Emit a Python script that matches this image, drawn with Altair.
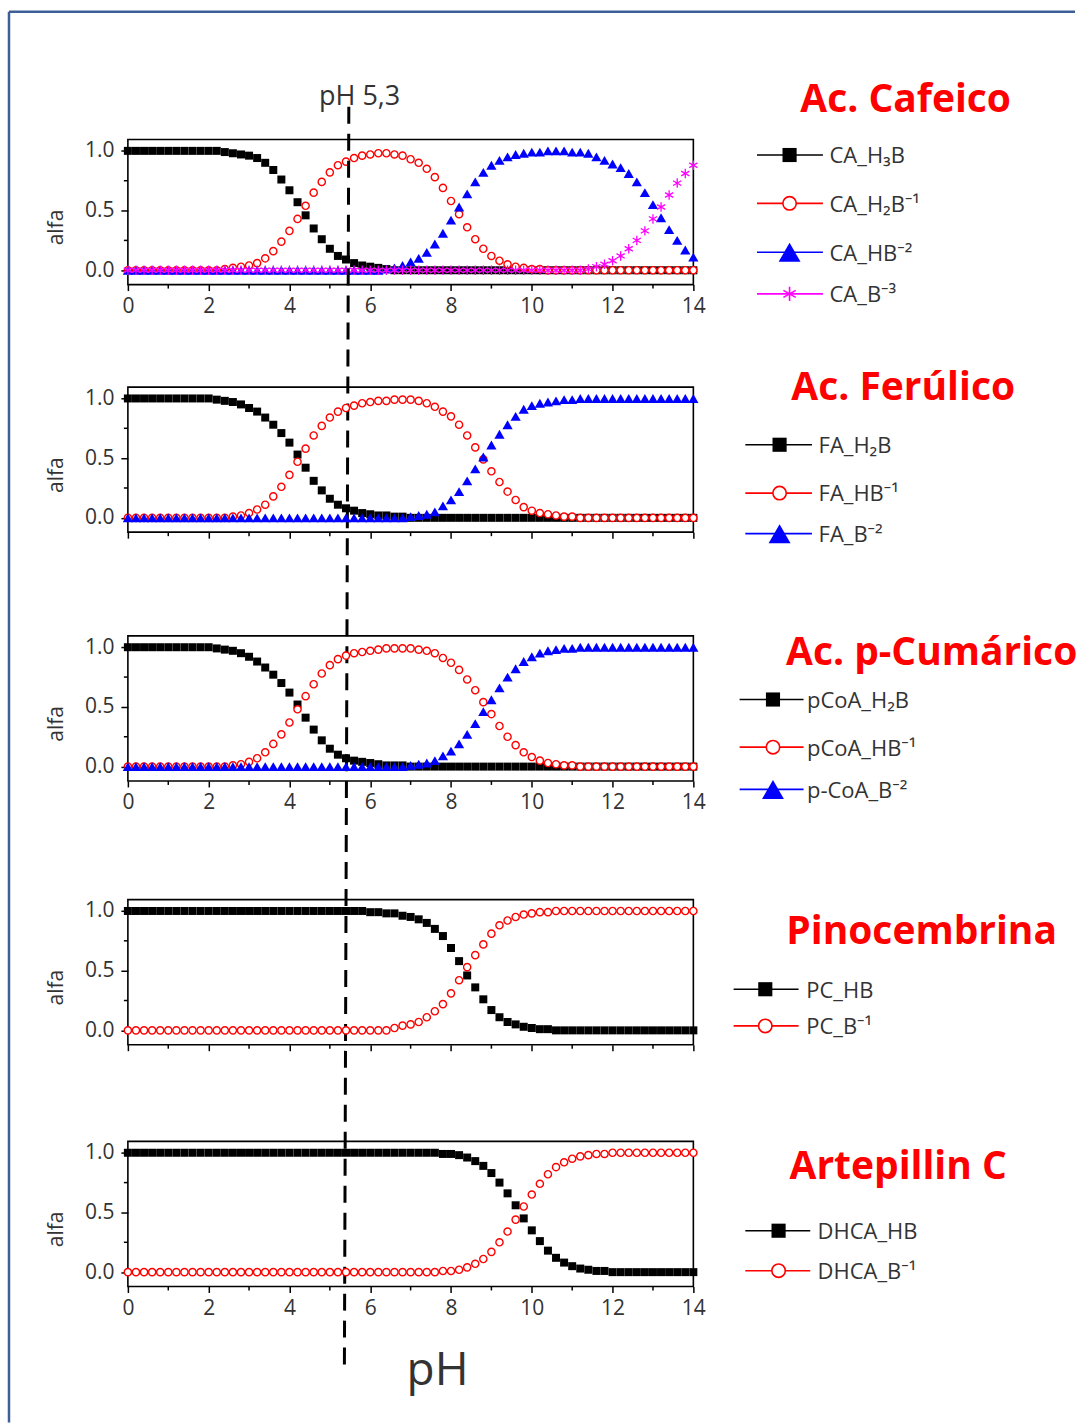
import altair as alt
import pandas as pd

# ---------------- data ----------------
PH = [0.0, 0.2, 0.4, 0.6, 0.8, 1.0, 1.2, 1.4, 1.6, 1.8,
      2.0, 2.2, 2.4, 2.6, 2.8, 3.0, 3.2, 3.4, 3.6, 3.8,
      4.0, 4.2, 4.4, 4.6, 4.8, 5.0, 5.2, 5.4, 5.6, 5.8,
      6.0, 6.2, 6.4, 6.6, 6.8, 7.0, 7.2, 7.4, 7.6, 7.8,
      8.0, 8.2, 8.4, 8.6, 8.8, 9.0, 9.2, 9.4, 9.6, 9.8,
      10.0, 10.2, 10.4, 10.6, 10.8, 11.0, 11.2, 11.4, 11.6, 11.8,
      12.0, 12.2, 12.4, 12.6, 12.8, 13.0, 13.2, 13.4, 13.6, 13.8,
      14.0]

# Ac. Cafeico
CA_H3B = [1, 1, 1, 1, 1, 1, 1, 1, 1, 1,
          1.00, 1.00, 0.99, 0.98, 0.97, 0.96, 0.94, 0.90, 0.84, 0.76,
          0.67, 0.57, 0.46, 0.35, 0.26, 0.18, 0.12, 0.09, 0.06, 0.04,
          0.03, 0.02, 0.01, 0, 0, 0, 0, 0, 0, 0,
          0, 0, 0, 0, 0, 0, 0, 0, 0, 0,
          0, 0, 0, 0, 0, 0, 0, 0, 0, 0,
          0, 0, 0, 0, 0, 0, 0, 0, 0, 0,
          0]
CA_H2B = [0, 0, 0, 0, 0, 0, 0, 0, 0, 0,
          0.00, 0.00, 0.01, 0.02, 0.03, 0.04, 0.06, 0.10, 0.16, 0.24,
          0.33, 0.43, 0.54, 0.65, 0.74, 0.82, 0.88, 0.91, 0.94, 0.96,
          0.97, 0.98, 0.98, 0.97, 0.96, 0.93, 0.90, 0.85, 0.78, 0.69,
          0.58, 0.47, 0.36, 0.26, 0.18, 0.12, 0.08, 0.05, 0.03, 0.02,
          0.01, 0.01, 0, 0, 0, 0, 0, 0, 0, 0,
          0, 0, 0, 0, 0, 0, 0, 0, 0, 0,
          0]
CA_HB = [0, 0, 0, 0, 0, 0, 0, 0, 0, 0,
         0, 0, 0, 0, 0, 0, 0, 0, 0, 0,
         0, 0, 0, 0, 0, 0, 0, 0, 0, 0,
         0, 0, 0.01, 0.02, 0.04, 0.07, 0.10, 0.15, 0.22, 0.31,
         0.42, 0.53, 0.64, 0.74, 0.82, 0.88, 0.92, 0.95, 0.97, 0.98,
         0.99, 0.99, 1.00, 1.00, 1.00, 0.99, 0.99, 0.98, 0.95, 0.92,
         0.89, 0.86, 0.81, 0.74, 0.65, 0.55, 0.44, 0.34, 0.25, 0.17,
         0.11]
CA_B = [0, 0, 0, 0, 0, 0, 0, 0, 0, 0,
        0, 0, 0, 0, 0, 0, 0, 0, 0, 0,
        0, 0, 0, 0, 0, 0, 0, 0, 0, 0,
        0, 0, 0, 0, 0, 0, 0, 0, 0, 0,
        0, 0, 0, 0, 0, 0, 0, 0, 0, 0,
        0, 0, 0, 0, 0, 0, 0, 0.01, 0.03, 0.05,
        0.08, 0.12, 0.18, 0.25, 0.33, 0.43, 0.53, 0.63, 0.73, 0.81,
        0.88]

# Ac. Ferulico
FA_H2B = [1, 1, 1, 1, 1, 1, 1, 1, 1, 1,
          1.00, 0.99, 0.98, 0.97, 0.95, 0.92, 0.89, 0.84, 0.78, 0.71,
          0.63, 0.53, 0.42, 0.31, 0.23, 0.16, 0.11, 0.08, 0.06, 0.04,
          0.03, 0.02, 0.02, 0.01, 0.01, 0, 0, 0, 0, 0,
          0, 0, 0, 0, 0, 0, 0, 0, 0, 0,
          0, 0, 0, 0, 0, 0, 0, 0, 0, 0,
          0, 0, 0, 0, 0, 0, 0, 0, 0, 0,
          0]
FA_HB = [0, 0, 0, 0, 0, 0, 0, 0, 0, 0,
         0, 0, 0, 0.01, 0.02, 0.04, 0.07, 0.11, 0.18, 0.26,
         0.36, 0.47, 0.58, 0.69, 0.77, 0.84, 0.89, 0.92, 0.94, 0.96,
         0.97, 0.98, 0.98, 0.99, 0.99, 0.99, 0.98, 0.96, 0.93, 0.89,
         0.85, 0.78, 0.69, 0.59, 0.49, 0.39, 0.30, 0.22, 0.15, 0.09,
         0.06, 0.04, 0.03, 0.02, 0.01, 0.01, 0, 0, 0, 0,
         0, 0, 0, 0, 0, 0, 0, 0, 0, 0,
         0]
FA_B = [0, 0, 0, 0, 0, 0, 0, 0, 0, 0,
        0, 0, 0, 0, 0, 0, 0, 0, 0, 0,
        0, 0, 0, 0, 0, 0, 0, 0, 0, 0,
        0, 0, 0, 0, 0, 0.01, 0.02, 0.03, 0.05, 0.10,
        0.15, 0.22, 0.31, 0.41, 0.51, 0.61, 0.70, 0.78, 0.85, 0.91,
        0.94, 0.96, 0.97, 0.98, 0.99, 0.99, 1, 1, 1, 1,
        1, 1, 1, 1, 1, 1, 1, 1, 1, 1,
        1]

# Ac. p-Cumarico
PCOA_H2B = [1, 1, 1, 1, 1, 1, 1, 1, 1, 1,
            1.00, 0.99, 0.98, 0.97, 0.95, 0.92, 0.88, 0.83, 0.77, 0.70,
            0.62, 0.52, 0.41, 0.31, 0.22, 0.15, 0.10, 0.07, 0.05, 0.04,
            0.03, 0.02, 0.01, 0.01, 0.01, 0, 0, 0, 0, 0,
            0, 0, 0, 0, 0, 0, 0, 0, 0, 0,
            0, 0, 0, 0, 0, 0, 0, 0, 0, 0,
            0, 0, 0, 0, 0, 0, 0, 0, 0, 0,
            0]
PCOA_HB = [0, 0, 0, 0, 0, 0, 0, 0, 0, 0,
           0, 0, 0, 0.01, 0.02, 0.04, 0.07, 0.12, 0.19, 0.27,
           0.37, 0.48, 0.59, 0.69, 0.78, 0.85, 0.90, 0.93, 0.95, 0.96,
           0.97, 0.98, 0.99, 0.99, 0.99, 0.99, 0.98, 0.97, 0.95, 0.91,
           0.87, 0.81, 0.73, 0.64, 0.54, 0.44, 0.34, 0.25, 0.18, 0.12,
           0.08, 0.05, 0.03, 0.02, 0.01, 0.01, 0, 0, 0, 0,
           0, 0, 0, 0, 0, 0, 0, 0, 0, 0,
           0]
PCOA_B = [0, 0, 0, 0, 0, 0, 0, 0, 0, 0,
          0, 0, 0, 0, 0, 0, 0, 0, 0, 0,
          0, 0, 0, 0, 0, 0, 0, 0, 0, 0,
          0, 0, 0, 0, 0, 0.01, 0.02, 0.03, 0.05, 0.09,
          0.13, 0.19, 0.27, 0.36, 0.46, 0.56, 0.66, 0.75, 0.82, 0.88,
          0.92, 0.95, 0.97, 0.98, 0.99, 0.99, 1, 1, 1, 1,
          1, 1, 1, 1, 1, 1, 1, 1, 1, 1,
          1]

# Pinocembrina
PC_HB = [1, 1, 1, 1, 1, 1, 1, 1, 1, 1,
         1, 1, 1, 1, 1, 1, 1, 1, 1, 1,
         1, 1, 1, 1, 1, 1, 1, 1, 1, 1,
         0.99, 0.99, 0.98, 0.98, 0.96, 0.95, 0.93, 0.90, 0.85, 0.79,
         0.69, 0.58, 0.46, 0.36, 0.26, 0.17, 0.11, 0.07, 0.05, 0.03,
         0.02, 0.01, 0.01, 0, 0, 0, 0, 0, 0, 0,
         0, 0, 0, 0, 0, 0, 0, 0, 0, 0,
         0]
PC_B = [0, 0, 0, 0, 0, 0, 0, 0, 0, 0,
        0, 0, 0, 0, 0, 0, 0, 0, 0, 0,
        0, 0, 0, 0, 0, 0, 0, 0, 0, 0,
        0, 0, 0, 0.02, 0.04, 0.05, 0.07, 0.11, 0.16, 0.22,
        0.31, 0.42, 0.53, 0.63, 0.72, 0.81, 0.88, 0.92, 0.95, 0.97,
        0.98, 0.99, 0.99, 1, 1, 1, 1, 1, 1, 1,
        1, 1, 1, 1, 1, 1, 1, 1, 1, 1,
        1]

# Artepillin C
DHCA_HB = [1, 1, 1, 1, 1, 1, 1, 1, 1, 1,
           1, 1, 1, 1, 1, 1, 1, 1, 1, 1,
           1, 1, 1, 1, 1, 1, 1, 1, 1, 1,
           1, 1, 1, 1, 1, 1, 1, 1, 1, 0.99,
           0.99, 0.98, 0.96, 0.93, 0.89, 0.83, 0.75, 0.66, 0.56, 0.45,
           0.35, 0.26, 0.18, 0.12, 0.08, 0.05, 0.03, 0.02, 0.01, 0.01,
           0, 0, 0, 0, 0, 0, 0, 0, 0, 0,
           0]
DHCA_B = [0, 0, 0, 0, 0, 0, 0, 0, 0, 0,
          0, 0, 0, 0, 0, 0, 0, 0, 0, 0,
          0, 0, 0, 0, 0, 0, 0, 0, 0, 0,
          0, 0, 0, 0, 0, 0, 0, 0, 0, 0.01,
          0.01, 0.02, 0.04, 0.07, 0.11, 0.17, 0.25, 0.34, 0.44, 0.55,
          0.65, 0.74, 0.82, 0.88, 0.92, 0.95, 0.97, 0.98, 0.99, 0.99,
          1, 1, 1, 1, 1, 1, 1, 1, 1, 1,
          1]

TITLES = ["Ac. Cafeico", "Ac. Ferúlico", "Ac. p-Cumárico", "Pinocembrina", "Artepillin C"]
LABELS = [
    ["CA_H₃B", "CA_H₂B⁻¹", "CA_HB⁻²", "CA_B⁻³"],
    ["FA_H₂B", "FA_HB⁻¹", "FA_B⁻²"],
    ["pCoA_H₂B", "pCoA_HB⁻¹", "p-CoA_B⁻²"],
    ["PC_HB", "PC_B⁻¹"],
    ["DHCA_HB", "DHCA_B⁻¹"],
]
SERIES = [
    [CA_H3B, CA_H2B, CA_HB, CA_B],
    [FA_H2B, FA_HB, FA_B],
    [PCOA_H2B, PCOA_HB, PCOA_B],
    [PC_HB, PC_B],
    [DHCA_HB, DHCA_B],
]
STYLES = ["sq", "ci", "tr", "st"]
X_TICKS = [0, 2, 4, 6, 8, 10, 12, 14]
X_MINOR = [1, 3, 5, 7, 9, 11, 13]
Y_TICKS = [0.0, 0.5, 1.0]
Y_MINOR = [0.25, 0.75]
SHOW_X_LABELS = [True, False, True, False, True]
MARK_LABEL = "pH 5,3"
X_TITLE = "pH"
Y_TITLE = "alfa"
DASH_PH_TOP = 5.47
DASH_PH_BOTTOM = 5.36

# ---------------- layout / style ----------------
FONT = "Open Sans"
LEG_FONT = "Open Sans, Noto Sans"
TXT = "#333333"
W = 566
U = 119.5
YMIN = -0.12
YTOP = 1.095
FRAME_H = (YTOP - YMIN) * U
FRAME_BOTTOMS = [283.0, 530.0, 779.0, 1043.0, 1285.0]
SPACING = 20
HEIGHTS = [FRAME_H] + [FRAME_BOTTOMS[k] - (FRAME_BOTTOMS[k - 1] + SPACING) for k in range(1, 5)]
OX = 127.0
OY = FRAME_BOTTOMS[0] - FRAME_H

ASTER = "M0,-1L0,1M-0.87,-0.5L0.87,0.5M-0.87,0.5L0.87,-0.5"
COLORS = {"sq": "#000000", "ci": "#ff0000", "tr": "#0000ff", "st": "#ff00ff"}
PLOT_MARK = {
    "sq": dict(shape="square", filled=True, color="#000000", size=64, opacity=1),
    "ci": dict(shape="circle", filled=True, fill="#ffffff", stroke="#ff0000", strokeWidth=1.4, size=52, opacity=1),
    "tr": dict(shape="triangle-up", filled=True, color="#0000ff", size=105, opacity=1),
    "st": dict(shape=ASTER, filled=False, color="#ff00ff", strokeWidth=1.3, size=90, opacity=1),
}
LEG_MARK = {
    "sq": dict(shape="square", filled=True, color="#000000", size=200, opacity=1),
    "ci": dict(shape="circle", filled=True, fill="#ffffff", stroke="#ff0000", strokeWidth=1.6, size=180, opacity=1),
    "tr": dict(shape="triangle-up", filled=True, color="#0000ff", size=480, opacity=1),
    "st": dict(shape=ASTER, filled=False, color="#ff00ff", strokeWidth=1.6, size=200, opacity=1),
}
LEG_POS = [
    dict(title=(905.5, 110.0), ys=[153.3, 201.7, 250.7, 292.3], line=(756.7, 822.7), mk=789.3, tx=829.3),
    dict(title=(903.0, 398.3), ys=[443.3, 491.7, 532.3], line=(745.0, 811.7), mk=779.3, tx=818.3),
    dict(title=(931.5, 663.3), ys=[698.3, 746.0, 788.3], line=(739.3, 803.3), mk=772.7, tx=806.7),
    dict(title=(921.5, 943.3), ys=[988.3, 1025.0], line=(733.3, 798.3), mk=765.0, tx=806.0),
    dict(title=(898.0, 1178.3), ys=[1230.0, 1270.0], line=(745.0, 810.0), mk=778.3, tx=817.3),
]

ONE = pd.DataFrame({"k": [0]})


def rx(x):
    return x - OX


def ry(y):
    return y - OY


def overlays():
    lay = []
    # outer figure frame (left and top borders)
    lay.append(alt.Chart(ONE).mark_rule(color="#3d5f95", strokeWidth=2.5).encode(
        x=alt.value(rx(8)), y=alt.value(ry(10)), y2=alt.value(ry(1422))))
    lay.append(alt.Chart(ONE).mark_rule(color="#3d5f95", strokeWidth=2.5).encode(
        x=alt.value(rx(8)), x2=alt.value(rx(1075)), y=alt.value(ry(10))))
    # dashed pH line
    lay.append(alt.Chart(ONE).mark_rule(color="black", strokeWidth=3, strokeDash=[17, 10]).encode(
        x=alt.datum(DASH_PH_TOP), x2=alt.datum(DASH_PH_BOTTOM),
        y=alt.value(ry(105)), y2=alt.value(ry(1370))))
    lay.append(alt.Chart(ONE).mark_text(text=MARK_LABEL, font=FONT, fontSize=27, color=TXT,
                                        align="center", baseline="alphabetic").encode(
        x=alt.value(rx(359)), y=alt.value(ry(103.5))))
    lay.append(alt.Chart(ONE).mark_text(text=X_TITLE, font=FONT, fontSize=46, color=TXT,
                                        align="center", baseline="alphabetic").encode(
        x=alt.value(rx(437)), y=alt.value(ry(1384))))
    for k in range(5):
        pos = LEG_POS[k]
        lay.append(alt.Chart(ONE).mark_text(text=TITLES[k], font=FONT, fontSize=39, fontWeight="bold",
                                            color="#ff0000", align="center", baseline="alphabetic").encode(
            x=alt.value(rx(pos["title"][0])), y=alt.value(ry(pos["title"][1]))))
        for j, lab in enumerate(LABELS[k]):
            st = STYLES[j]
            yy = ry(pos["ys"][j])
            lay.append(alt.Chart(ONE).mark_rule(color=COLORS[st], strokeWidth=1.6).encode(
                x=alt.value(rx(pos["line"][0])), x2=alt.value(rx(pos["line"][1])), y=alt.value(yy)))
            lay.append(alt.Chart(ONE).mark_point(**LEG_MARK[st]).encode(
                x=alt.value(rx(pos["mk"])), y=alt.value(yy)))
            lay.append(alt.Chart(ONE).mark_text(text=lab, font=LEG_FONT, fontSize=22, color=TXT,
                                                align="left", baseline="alphabetic").encode(
                x=alt.value(rx(pos["tx"])), y=alt.value(yy + 8.4)))
    return lay


def panel(k):
    H = HEIGHTS[k]
    xs = alt.Scale(domain=[0, 14], nice=False, zero=False)
    ys = alt.Scale(domain=[YMIN, YMIN + H / U], nice=False, zero=False)
    xax = alt.Axis(values=X_TICKS, format="d", labels=SHOW_X_LABELS[k], domain=False, grid=False,
                   tickSize=6, tickWidth=1.5, tickColor="black", labelFont=FONT, labelFontSize=21,
                   labelColor=TXT, labelPadding=5, labelFlush=False, labelOverlap=False, title=None)
    yax = alt.Axis(values=Y_TICKS, format=".1f", domain=False, grid=False, tickSize=7, tickWidth=1.5,
                   tickColor="black", labelFont=FONT, labelFontSize=21, labelColor=TXT, labelPadding=7,
                   labelFlush=False, labelOverlap=False,
                   title=Y_TITLE, titleFont=FONT, titleFontSize=21, titleFontWeight="normal",
                   titleColor=TXT, titleX=-71, titleY=H - FRAME_H / 2 + 15, titleBaseline="middle",
                   titleAngle=270)
    X = alt.X("pH:Q", scale=xs, axis=xax)
    Y = alt.Y("alfa:Q", scale=ys, axis=yax)
    layers = []
    frame_df = pd.DataFrame({"pH": [0], "pH2": [14], "alfa": [YMIN], "alfa2": [YTOP]})
    layers.append(alt.Chart(frame_df).mark_rect(fillOpacity=0, stroke="black", strokeWidth=1.6).encode(
        x=X, x2=alt.X2("pH2"), y=Y, y2=alt.Y2("alfa2")))
    layers.append(alt.Chart(pd.DataFrame({"pH": X_MINOR})).mark_rule(color="black", strokeWidth=1.5).encode(
        x=X, y=alt.value(H), y2=alt.value(H + 4)))
    layers.append(alt.Chart(pd.DataFrame({"alfa": Y_MINOR})).mark_rule(color="black", strokeWidth=1.5).encode(
        y=Y, x=alt.value(-4), x2=alt.value(0)))
    for j, vals in enumerate(SERIES[k]):
        df = pd.DataFrame({"pH": PH, "alfa": vals})
        layers.append(alt.Chart(df).mark_point(**PLOT_MARK[STYLES[j]]).encode(x=X, y=Y))
    if k == 0:
        layers += overlays()
    return alt.layer(*layers).properties(width=W, height=H)


chart = alt.vconcat(*[panel(k) for k in range(5)], spacing=SPACING, bounds="flush").properties(
    padding={"left": 7, "top": 9, "right": 0, "bottom": 0}
).configure(font=FONT).configure_view(strokeWidth=0)

chart.save("out.html", embed_options={"renderer": "svg", "actions": False})
